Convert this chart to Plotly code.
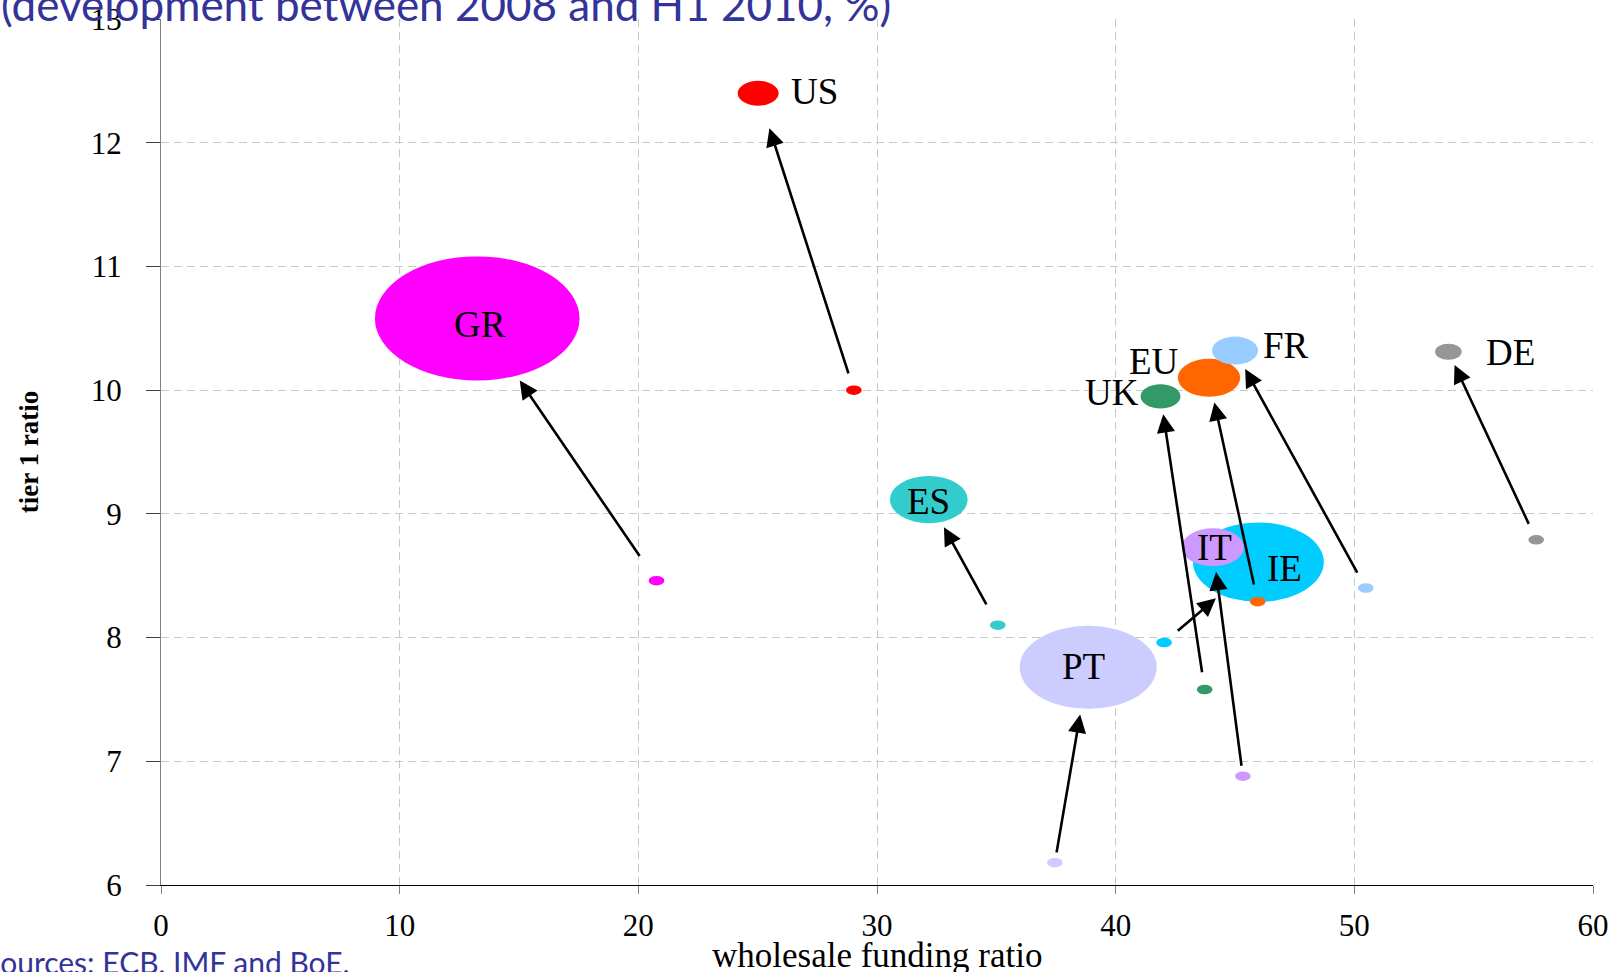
import math
import plotly.graph_objects as go

# ---- data -------------------------------------------------------------
countries = ["GR", "US", "ES", "PT", "IE", "IT", "UK", "EU", "FR", "DE"]

# 2008 (start of arrow, small dot)
wholesale_2008 = [20.76, 29.03, 35.06, 37.45, 42.03, 45.33, 43.73, 45.95, 50.48, 57.62]
tier1_2008 = [8.46, 10.00, 8.10, 6.18, 7.96, 6.88, 7.58, 8.29, 8.40, 8.79]

# H1 2010 (end of arrow, bubble)
wholesale_2010 = [13.25, 25.02, 32.17, 38.85, 45.98, 44.07, 41.88, 43.91, 45.00, 53.94]
tier1_2010 = [10.58, 12.40, 9.115, 7.76, 8.61, 8.73, 9.95, 10.10, 10.32, 10.31]

# relative bubble size (H1 2010)
bubble_size = [100, 20, 38, 67, 64, 30.5, 19.5, 30.5, 22.5, 13]

x_ticks = [0, 10, 20, 30, 40, 50, 60]
y_ticks = [6, 7, 8, 9, 10, 11, 12, 13]

# ---- style ------------------------------------------------------------
colors = {
    "GR": "#FF00FF", "US": "#FF0000", "ES": "#33CCCC", "PT": "#CCCCFF",
    "IE": "#00CCFF", "IT": "#CC99FF", "UK": "#339966", "EU": "#FF6600",
    "FR": "#99CCFF", "DE": "#969696",
}

W, H = 1620, 972
M_L, M_R, M_T, M_B = 161, 27, 19, 87
PLOT_W = W - M_L - M_R
PLOT_H = H - M_T - M_B
X_RANGE = (0, 60)
Y_RANGE = (6, 13)
KX = PLOT_W / (X_RANGE[1] - X_RANGE[0])   # px per x unit
KY = PLOT_H / (Y_RANGE[1] - Y_RANGE[0])   # px per y unit

ASPECT = 1.65            # bubbles are drawn as flattened ellipses
PX_PER_SIZE = 1.24       # vertical diameter (px) per unit of bubble_size
DOT_H = 9.5              # 2008 marker height, px

SERIF = "Liberation Serif"
SANS = "Lato"
BLUE = "#333399"

# label placement: (mode, xshift px, yshift px)
label_place = {
    "GR": ("center", 3, -6),
    "US": ("right", 10, 2),
    "ES": ("center", 0, -2),
    "PT": ("center", -5, 1),
    "IE": ("center", 26, -6),
    "IT": ("center", 2, 0),
    "UK": ("left", 0, 4),
    "EU": ("center", -55, 16),
    "FR": ("right", 3, 5),
    "DE": ("right", 22, -1),
}
arrow_gap = {"US": 24}          # extra room before the bubble edge
start_gap = {"GR": 28, "ES": 22, "IT": 9, "PT": 9}


def ellipse(cx, cy, h_px, color):
    rx = h_px * ASPECT / 2 / KX
    ry = h_px / 2 / KY
    return dict(type="circle", xref="x", yref="y", layer="above",
                x0=cx - rx, x1=cx + rx, y0=cy - ry, y1=cy + ry,
                fillcolor=color, line=dict(width=0))


def edge_distance(cx, cy, tx, ty, h_px):
    """pixel distance from ellipse centre to its edge toward (tx, ty)"""
    dx = (tx - cx) * KX
    dy = (ty - cy) * KY
    a = h_px * ASPECT / 2
    b = h_px / 2
    return math.hypot(dx, dy) / math.sqrt((dx / a) ** 2 + (dy / b) ** 2)


fig = go.Figure()

# hover-only trace carrying the data
fig.add_trace(go.Scatter(
    x=wholesale_2010, y=tier1_2010, mode="markers", text=countries,
    marker=dict(size=1, opacity=0), hoverinfo="text+x+y", showlegend=False,
))

shapes = []
for i, c in enumerate(countries):
    shapes.append(ellipse(wholesale_2010[i], tier1_2010[i],
                          bubble_size[i] * PX_PER_SIZE, colors[c]))
for i, c in enumerate(countries):
    shapes.append(ellipse(wholesale_2008[i], tier1_2008[i], DOT_H, colors[c]))

annotations = []
for i, c in enumerate(countries):
    h_px = bubble_size[i] * PX_PER_SIZE
    d = edge_distance(wholesale_2010[i], tier1_2010[i],
                      wholesale_2008[i], tier1_2008[i], h_px)
    annotations.append(dict(
        x=wholesale_2010[i], y=tier1_2010[i], xref="x", yref="y",
        ax=wholesale_2008[i], ay=tier1_2008[i], axref="x", ayref="y",
        text="", showarrow=True, arrowhead=2, arrowsize=1.4, arrowwidth=2.6,
        arrowcolor="black", standoff=d + arrow_gap.get(c, 6),
        startstandoff=start_gap.get(c, 16),
    ))

for i, c in enumerate(countries):
    mode, xs, ys = label_place[c]
    half_w = bubble_size[i] * PX_PER_SIZE * ASPECT / 2
    if mode == "right":
        anchor, shift = "left", half_w + xs
    elif mode == "left":
        anchor, shift = "right", -half_w + xs
    else:
        anchor, shift = "center", xs
    annotations.append(dict(
        x=wholesale_2010[i], y=tier1_2010[i], xref="x", yref="y",
        text=c, showarrow=False, xanchor=anchor, yanchor="middle",
        xshift=shift, yshift=ys,
        font=dict(family=SERIF, size=37, color="black"),
    ))


def paper_x(px):
    return (px - M_L) / PLOT_W


# chart subtitle, source note and x-axis title
annotations.append(dict(
    text="(development between 2008 and H1 2010, %)",
    xref="paper", yref="paper", x=paper_x(-1), y=1, xanchor="left",
    yanchor="bottom", yshift=-13, showarrow=False,
    font=dict(family=SANS, size=44, color=BLUE),
))
annotations.append(dict(
    text="Sources: ECB, IMF and BoE.",
    xref="paper", yref="paper", x=paper_x(-18), y=0, xanchor="left",
    yanchor="top", yshift=-57, showarrow=False,
    font=dict(family=SANS, size=30, color=BLUE),
))
annotations.append(dict(
    text="wholesale funding ratio",
    xref="paper", yref="paper", x=0.5, y=0, xanchor="center",
    yanchor="middle", yshift=-70, showarrow=False,
    font=dict(family=SERIF, size=35, color="black"),
))

fig.update_layout(
    width=W, height=H,
    margin=dict(l=M_L, r=M_R, t=M_T, b=M_B, autoexpand=False),
    plot_bgcolor="white", paper_bgcolor="white",
    showlegend=False, shapes=shapes, annotations=annotations,
    xaxis=dict(
        range=list(X_RANGE), tickvals=x_ticks, zeroline=False, automargin=False,
        showgrid=True, gridcolor="#C8C8C8", griddash="8px,5px", gridwidth=1.3,
        showline=True, linecolor="black", linewidth=1.3,
        ticks="outside", ticklen=8, tickcolor="#808080", tickwidth=1.3,
        tickfont=dict(family=SERIF, size=31, color="black"),
        ticklabelstandoff=5,
    ),
    yaxis=dict(
        range=list(Y_RANGE), tickvals=y_ticks, zeroline=False, automargin=False,
        showgrid=True, gridcolor="#C8C8C8", griddash="8px,5px", gridwidth=1.3,
        showline=True, linecolor="#808080", linewidth=1.3,
        ticks="outside", ticklen=14, tickcolor="#404040", tickwidth=1.3,
        tickfont=dict(family=SERIF, size=31, color="black"),
        ticklabelstandoff=18,
        title=dict(text="tier 1 ratio", standoff=44,
                   font=dict(family=SERIF, size=27, color="black", weight="bold")),
    ),
)

fig.write_html("out.html")
